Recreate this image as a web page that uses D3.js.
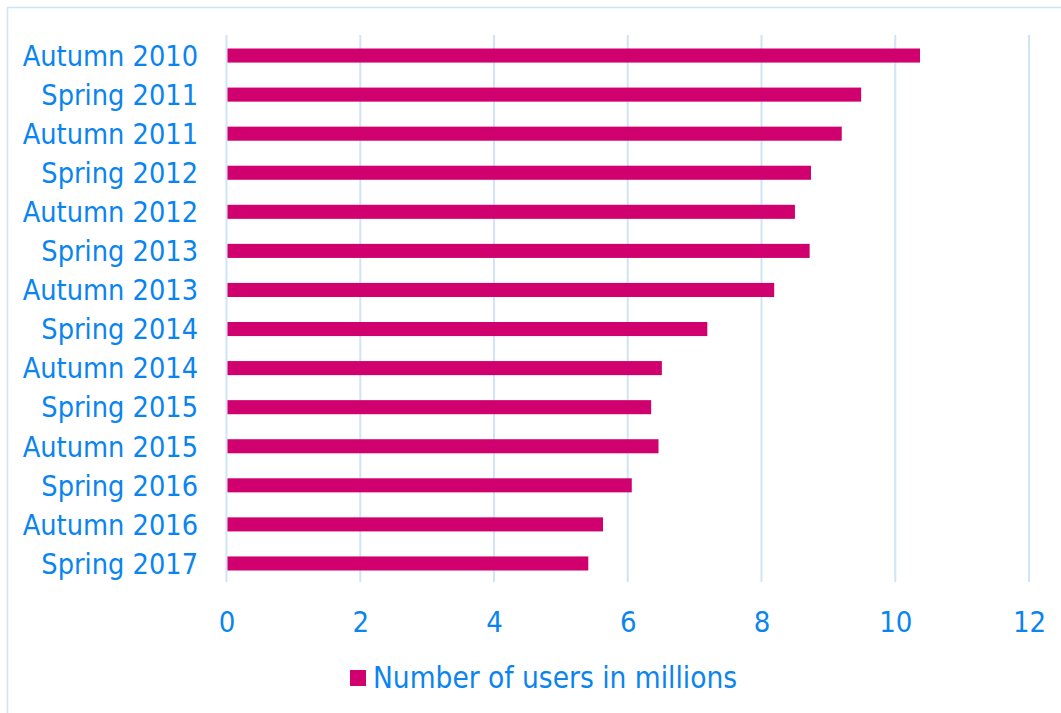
<!DOCTYPE html>
<html>
<head>
<meta charset="utf-8">
<script src="https://cdn.jsdelivr.net/npm/d3@7"></script>
<style>
  html, body { margin: 0; padding: 0; background: #fff; }
  svg { display: block; }
</style>
</head>
<body>
<svg id="chart" width="1061" height="713"></svg>
<script>
// Survey periods, top to bottom
const periods = [
  "Autumn 2010", "Spring 2011", "Autumn 2011", "Spring 2012", "Autumn 2012",
  "Spring 2013", "Autumn 2013", "Spring 2014", "Autumn 2014", "Spring 2015",
  "Autumn 2015", "Spring 2016", "Autumn 2016", "Spring 2017"
];
// Users per period, in millions
const users = [10.37, 9.49, 9.20, 8.74, 8.50, 8.72, 8.19, 7.19, 6.51, 6.35, 6.46, 6.06, 5.63, 5.41];
const xTicks = [0, 2, 4, 6, 8, 10, 12];
const seriesName = "Number of users in millions";

const rows = periods.map((p, i) => ({ period: p, value: users[i] }));

const font = "Tahoma, 'DejaVu Sans Condensed', 'DejaVu Sans', sans-serif";
const textColor = "#0a84ef";
const barColor = "#d0006f";
const gridColor = "#cfe4f8";

const svg = d3.select("#chart");

// outer frame
svg.append("rect")
  .attr("x", 7.5).attr("y", 7.5)
  .attr("width", 1100).attr("height", 800)
  .attr("fill", "none")
  .attr("stroke", gridColor)
  .attr("stroke-width", 1.5);

const x = d3.scaleLinear().domain([0, 12]).range([226.5, 1029]);
const y = d3.scaleBand().domain(periods).range([36, 583]).paddingInner(0.64).paddingOuter(0.32);

// vertical gridlines
svg.append("g")
  .selectAll("line")
  .data(xTicks)
  .join("line")
  .attr("x1", d => x(d)).attr("x2", d => x(d))
  .attr("y1", 35).attr("y2", 582)
  .attr("stroke", gridColor)
  .attr("stroke-width", 2);

// bars
svg.append("g")
  .selectAll("rect")
  .data(rows)
  .join("rect")
  .attr("x", x(0) + 1)
  .attr("y", d => y(d.period))
  .attr("width", d => x(d.value) - x(0) - 1)
  .attr("height", y.bandwidth())
  .attr("fill", barColor);

// category labels
const yAxis = d3.axisLeft(y).tickSize(0).tickPadding(0);
svg.append("g")
  .attr("transform", "translate(198,0)")
  .call(yAxis)
  .call(g => g.select(".domain").remove())
  .call(g => g.selectAll("text")
    .attr("fill", textColor)
    .attr("font-family", font)
    .attr("font-size", 28.6)
    .attr("dy", "0.36em"));

// value axis labels
const xAxis = d3.axisBottom(x).tickValues(xTicks).tickSize(0).tickPadding(0);
svg.append("g")
  .attr("transform", "translate(0,632)")
  .call(xAxis)
  .call(g => g.select(".domain").remove())
  .call(g => g.selectAll("text")
    .attr("fill", textColor)
    .attr("font-family", font)
    .attr("font-size", 29)
    .attr("dy", 0));

// legend
const legend = svg.append("g");
legend.append("rect")
  .attr("x", 350).attr("y", 670)
  .attr("width", 16).attr("height", 16)
  .attr("fill", barColor);
legend.append("text")
  .attr("x", 373).attr("y", 688)
  .attr("fill", textColor)
  .attr("font-family", font)
  .attr("font-size", 29.5)
  .text(seriesName);
</script>
</body>
</html>
